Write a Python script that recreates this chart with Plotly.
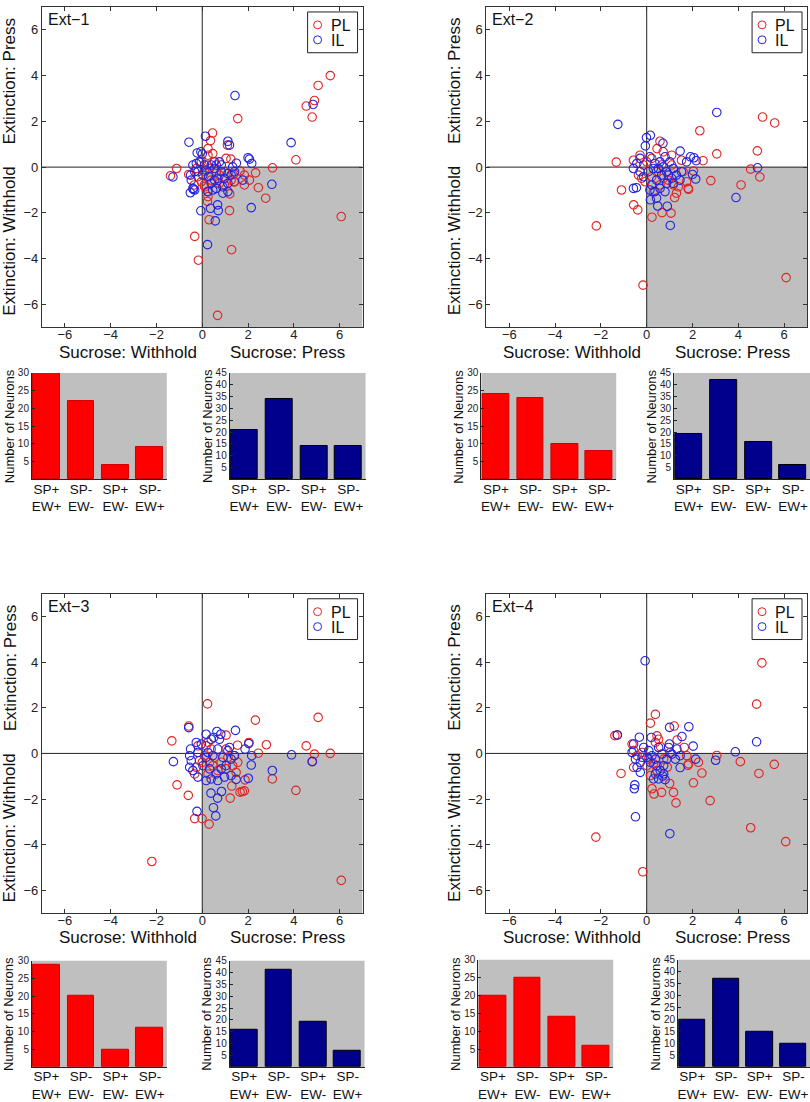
import plotly.graph_objects as go

W, H = 810, 1102

# ---------------- data ----------------
panel_names = ["Ext\u22121", "Ext\u22122", "Ext\u22123", "Ext\u22124"]
categories = ["SP+<br>EW+", "SP-<br>EW-", "SP+<br>EW-", "SP-<br>EW+"]
series_names = ["PL", "IL"]

pl_bars = [[30, 22, 4, 9], [24, 23, 10, 8], [29, 20, 5, 11], [20, 25, 14, 6]]
il_bars = [[21, 34, 14, 14], [19, 42, 16, 6], [16, 41, 19, 7], [20, 37, 15, 10]]

ext1_pl_x = [5.59, 5.06, 4.9, 4.54, 4.8, 1.55, 4.09, 3.07, 0.45, 0.36, 6.07, 2.77, 2.45, 2.33, 1.84, 1.19,
             1.28, 0.3, -0.33, -0.17, 0.67, -1.12, -1.39, -0.59, 0.23, 1.2, 2.06, 1.65, 1.25, 1.1, 1.04, 0.25,
             0.25, 0.46, 1.84, 0.25, -0.04, -0.19, 0.1, 0.32, 0.54, 0.75, 0.97, 1.26, 1.41, -0.04, 0.61, 0.39,
             0.1, 0.75, 0.97, -0.26, 0.22, 0.23, 0.09, 0.52, -0.35, 1.39, 1.39]
ext1_pl_y = [4.0, 3.57, 2.91, 2.67, 2.19, 2.12, 0.32, -0.03, 1.49, 1.16, -2.16, -1.36, -0.9, -0.25, -0.78, -1.9,
             -3.61, -2.3, -3.03, -4.07, -6.48, -0.06, -0.38, -0.32, -1.5, -1.17, -0.57, -0.17, 0.35, 0.96, 0.38, 0.81,
             0.52, 0.59, -0.35, -1.29, -0.64, -0.42, -0.2, -0.06, 0.23, -0.35, -0.78, -0.57, -0.64, 0.23, -0.2, -0.57,
             -0.86, -0.71, -0.2, -0.06, 0.09, -1.07, -0.78, 0.23, -0.78, -0.64, -0.28]
ext1_il_x = [1.43, 4.84, 3.88, -0.58, 0.14, 1.12, 1.19, 2.0, 2.06, 2.16, 1.49, 3.04, 2.14, -0.06, 0.23, 0.36,
             0.67, 0.7, 0.57, -1.28, -0.52, -0.39, -0.06, 0.0, -0.12, -0.26, -0.33, -0.51, -0.48, -0.41, -0.33, -0.19,
             0.03, 0.17, 0.39, 0.61, 0.75, 0.83, 0.68, 0.54, 0.39, 0.25, 0.46, 0.61, 0.9, 1.12, 1.26, 1.41,
             1.12, 0.97, 1.12, 0.9, 0.54, 0.28, 0.1, -0.22, -0.41, 0.83, 1.33, 1.77]
ext1_il_y = [3.13, 2.74, 1.07, 1.09, 1.35, 1.13, 0.96, 0.41, 0.35, 0.16, 0.17, -0.75, -1.77, -1.91, -3.39, -1.8,
             -1.65, -1.9, -2.35, -0.43, -1.12, -0.97, 0.67, 0.57, 0.23, 0.16, -0.2, -0.35, -0.57, -0.93, -1.0, -0.2,
             -0.35, -0.13, 0.09, 0.09, 0.23, -0.2, -0.49, -0.57, -0.71, -1.07, -1.0, -0.93, -0.86, -0.71, -0.35, -0.2,
             -0.28, -0.49, -1.07, -1.14, -0.06, -0.42, 0.09, 0.62, 0.09, 0.09, 0.01, -0.57]

ext2_pl_x = [5.06, 5.59, 2.32, 3.06, 4.83, 2.46, -1.33, 4.54, 4.94, 4.12, 2.8, 1.83, 2.04, 1.22, 0.67, 1.06,
             0.23, -0.57, -0.39, -1.1, -2.2, -0.16, 6.09, 0.58, 0.45, -0.29, -0.58, 0.22, 0.0, -0.14, -0.22, -0.36,
             -0.07, 0.22, 0.43, 0.72, 0.94, 1.16, 1.38, 1.3, 1.74, 1.81, 0.65, 1.09, 1.52, 0.29, 0.58, 1.59,
             1.09, 0.72]
ext2_pl_y = [2.19, 1.93, 1.59, 0.58, 0.71, 0.28, 0.22, -0.09, -0.43, -0.78, -0.59, -0.97, -0.17, -1.33, -1.99, -2.01,
             -2.19, -1.65, -1.87, -1.0, -2.57, -5.16, -4.83, 1.13, 0.81, 0.52, 0.3, 0.38, 0.23, 0.09, -0.49, -0.35,
             -0.64, -0.42, -0.2, -0.49, -0.57, -0.78, -0.86, -1.14, -0.64, -0.93, 0.09, 0.09, 0.3, -1.07, -0.78, -0.2,
             0.52, 0.67]
ext2_il_x = [3.06, -1.26, 0.16, -0.01, -0.06, 0.71, 1.46, 1.91, 2.06, 2.16, 4.84, 3.9, 2.14, 2.0, 1.03, 0.9,
             0.48, 0.16, -0.58, -0.45, -0.58, -0.43, -0.29, 0.14, 0.36, 0.58, 0.8, 1.01, 1.16, 0.87, 0.65, 0.43,
             0.22, 0.14, 0.36, 0.58, 0.87, 1.09, 1.3, 1.52, 1.45, 1.74, -0.29, -0.14, 0.07, 0.29, 0.51, 0.72,
             0.94, 1.16, 0.8, 0.43]
ext2_il_y = [2.39, 1.87, 1.39, 1.29, 0.93, 1.04, 0.7, 0.45, 0.41, 0.28, -0.03, -1.33, -0.52, -0.32, -2.55, -1.71,
             -1.7, -1.43, -0.93, -0.9, -0.06, 0.16, 0.38, 0.45, 0.16, 0.23, 0.45, 0.23, -0.06, -0.2, -0.35, -0.57,
             -0.78, -1.0, -1.07, -0.93, -0.71, -0.49, -0.35, -0.2, -0.57, 0.23, -0.2, -0.42, -0.2, -0.06, -0.06, 0.01,
             -0.35, -0.71, -1.07, -1.36]

ext3_pl_x = [0.23, 2.32, 5.06, -1.33, -0.59, 1.04, 2.04, 2.8, 2.45, 4.54, 4.9, 5.59, 4.81, 3.06, 4.09, 1.65,
             1.75, 1.84, 1.22, 1.87, -1.1, -0.61, -0.33, -0.01, 0.3, -2.2, 6.07, 1.54, 1.29, 1.39, 0.25, 0.39,
             0.1, -0.12, -0.26, -0.33, 0.32, 0.46, 0.25, 1.04, 1.12, 1.33, 1.55, 1.48, 0.54, 0.68, 0.0, -0.19,
             0.17, 1.04, 0.83]
ext3_pl_y = [2.17, 1.46, 1.58, 0.55, 1.2, 0.8, 0.48, 0.38, 0.01, 0.33, -0.03, 0.0, -0.35, -1.12, -1.62, -1.7,
             -1.67, -1.64, -1.96, -1.16, -1.38, -1.84, -2.86, -2.86, -3.1, -4.74, -5.57, 0.36, -1.43, -0.1, 0.48, 0.19,
             -0.1, -0.32, -0.61, -0.9, -0.39, -0.54, -0.9, 0.19, -0.17, -0.54, -0.39, -0.83, -0.17, -0.75, -0.39, 0.33,
             0.33, -0.68, -0.39]
ext3_il_x = [-0.59, 1.45, -1.26, 3.9, 4.8, 3.06, 2.14, 2.16, 2.03, 1.87, -0.23, 0.59, 0.49, 0.67, 0.38, 0.84,
             2.01, 1.48, 0.64, 0.81, -0.51, -0.55, -0.48, -0.55, -0.41, -0.19, -0.26, -0.04, 0.17, 0.39, 0.5, 0.75,
             0.68, 0.46, 0.17, 0.03, 0.32, 0.61, 0.83, 1.04, 1.26, 1.19, 1.41, 0.97, 0.68, 0.39, 0.17, 1.26,
             -0.19, 0.25, 0.9, 1.12]
ext3_il_y = [1.13, 1.01, -0.36, -0.06, -0.36, -0.75, -0.51, -0.1, 0.43, 0.19, -2.54, -2.74, -2.38, -1.96, -1.74, -1.67,
             -1.09, -1.14, 0.96, 0.84, 0.19, -0.1, -0.32, -0.61, -0.75, -1.04, 0.48, 0.41, 0.84, 0.62, 0.7, 0.62,
             0.19, -0.1, -0.17, -0.54, -0.68, -0.9, -0.68, -0.54, -0.25, 0.26, -0.1, -1.04, -1.19, -1.12, -1.19, -0.97,
             0.04, 0.04, -0.17, 0.12]

ext4_pl_x = [5.03, 4.8, 0.38, 0.16, 1.2, -1.39, -1.29, 3.06, 4.09, 5.57, 4.9, 2.41, 2.04, 2.77, 4.54, 6.07,
             1.28, 1.17, 1.0, 0.65, 0.32, 0.23, -1.12, -2.22, -0.17, 2.26, 1.8, 1.64, 1.33, 0.45, 0.52, 0.38,
             -0.64, -0.57, -0.42, -0.57, -0.2, 0.09, 0.3, 0.45, 0.16, 1.83, 1.75, 1.03, 0.74, 0.01, 0.6, 0.9]
ext4_pl_y = [3.97, 2.16, 1.71, 1.33, 1.2, 0.78, 0.8, -0.09, -0.36, -0.48, -0.88, -0.86, -1.29, -2.07, -3.26, -3.87,
             -2.17, -1.71, -1.32, -1.71, -1.78, -1.55, -0.88, -3.67, -5.19, -0.39, -0.52, 0.26, 0.59, 0.77, 0.62, 0.48,
             0.41, 0.12, -0.1, -0.61, 0.04, -0.25, -0.46, -0.75, -0.97, -0.46, -0.1, 0.04, -0.25, -0.54, 0.3, -0.6]
ext4_il_x = [-0.07, 4.8, 3.87, 3.01, 1.84, 1.0, 1.54, 2.03, 2.14, 1.46, -1.28, -0.32, -0.52, -0.54, -0.49, 1.01,
             0.2, -0.57, -0.64, -0.49, -0.42, -0.28, -0.13, 0.09, 0.23, 0.38, 0.16, 0.01, 0.45, 0.59, 0.74, 0.38,
             0.52, 0.74, 0.88, 0.96, 1.1, 1.25, 1.32, 1.46, 0.52, 0.67, 0.3, -0.2, -0.28, 0.99, 0.7, 0.8]
ext4_il_y = [4.06, 0.51, 0.07, -0.3, 1.17, 1.14, 0.74, 0.32, -0.25, -0.62, 0.81, 0.71, -1.38, -1.55, -2.78, -3.52,
             0.7, 0.41, 0.04, -0.25, -0.61, -0.83, 0.26, 0.12, -0.1, -0.25, -0.39, -0.17, -0.54, -0.75, -0.9, -0.9,
             -1.12, -0.54, -0.25, 0.26, -0.03, -0.25, 0.19, -0.1, 0.26, -0.03, -1.12, -0.17, -0.39, 0.41, -1.0, -1.15]

pl_x = [ext1_pl_x, ext2_pl_x, ext3_pl_x, ext4_pl_x]
pl_y = [ext1_pl_y, ext2_pl_y, ext3_pl_y, ext4_pl_y]
il_x = [ext1_il_x, ext2_il_x, ext3_il_x, ext4_il_x]
il_y = [ext1_il_y, ext2_il_y, ext3_il_y, ext4_il_y]

# ---------------- layout geometry (pixels) ----------------
scatter_boxes = [(41, 362, 1, 323), (486, 807, 1, 323), (41, 362, 591, 912), (486, 807, 591, 912)]
bar_boxes = [((31, 166), (229, 365), (369, 476)),
             ((481, 616), (674, 810), (369, 476)),
             ((31, 166), (229, 364), (960, 1067)),
             ((478, 613), (678, 810), (959, 1067))]

FONT = "Liberation Sans, Arial, Helvetica, sans-serif"
RED_M = "#e02424"
BLUE_M = "#2424dc"
RED_BAR = "#ff0000"
BLUE_BAR = "#00008c"
GRAY = "#bfbfbf"


def fx(p):
    return p / W


def fy(p):
    return 1 - p / H


fig = go.Figure()
layout = dict(width=W, height=H, margin=dict(l=0, r=0, t=0, b=0),
              paper_bgcolor="white", plot_bgcolor="white",
              font=dict(family=FONT, color="#111"), showlegend=False)
shapes = []
annotations = []

for p in range(4):
    sx, bx1, bx2 = 3 * p + 1, 3 * p + 2, 3 * p + 3
    L, R, T, B = scatter_boxes[p]
    xs = "x" if sx == 1 else f"x{sx}"
    ys = "y" if sx == 1 else f"y{sx}"
    axis_common = dict(range=[-7, 7], tickvals=[-6, -4, -2, 0, 2, 4, 6], ticks="inside", ticklen=4,
                       tickcolor="#333", showline=True, linecolor="#333", linewidth=1, mirror="ticks",
                       showgrid=False, zeroline=False, tickfont=dict(size=13, color="#222", family=FONT),
                       fixedrange=True)
    layout["xaxis" if sx == 1 else f"xaxis{sx}"] = dict(domain=[fx(L), fx(R)], anchor=ys,
                                                        ticklabelstandoff=-5, **axis_common)
    layout["yaxis" if sx == 1 else f"yaxis{sx}"] = dict(domain=[fy(B), fy(T)], anchor=xs, **axis_common)

    shapes.append(dict(type="rect", xref=xs, yref=ys, x0=0, x1=7, y0=-7, y1=0,
                       fillcolor=GRAY, line=dict(width=0), layer="below"))
    shapes.append(dict(type="line", xref=xs, yref=ys, x0=0, x1=0, y0=-7, y1=7,
                       line=dict(color="#222", width=1), layer="below"))
    shapes.append(dict(type="line", xref=xs, yref=ys, x0=-7, x1=7, y0=0, y1=0,
                       line=dict(color="#222", width=1), layer="below"))

    fig.add_trace(go.Scatter(x=pl_x[p], y=pl_y[p], mode="markers", name=series_names[0], xaxis=xs, yaxis=ys,
                             marker=dict(symbol="circle-open", size=8.5, color=RED_M, line=dict(width=1.1))))
    fig.add_trace(go.Scatter(x=il_x[p], y=il_y[p], mode="markers", name=series_names[1], xaxis=xs, yaxis=ys,
                             marker=dict(symbol="circle-open", size=8.5, color=BLUE_M, line=dict(width=1.1))))

    # legend box (drawn manually, MATLAB style)
    shapes.append(dict(type="rect", xref="paper", yref="paper", x0=fx(R - 55), x1=fx(R - 5),
                       y0=fy(T + 46), y1=fy(T + 5), fillcolor="white", line=dict(color="#222", width=1),
                       layer="above"))
    for k, (col, name) in enumerate([(RED_M, series_names[0]), (BLUE_M, series_names[1])]):
        cy = T + 18 + 15 * k
        shapes.append(dict(type="circle", xref="paper", yref="paper", x0=fx(R - 49), x1=fx(R - 41),
                           y0=fy(cy + 4), y1=fy(cy - 4), line=dict(color=col, width=1), layer="above"))
        annotations.append(dict(text=name, x=fx(R - 33), y=fy(cy), xref="paper", yref="paper",
                                xanchor="left", yanchor="middle", showarrow=False, height=14,
                                valign="middle", borderpad=0,
                                font=dict(size=16, family=FONT, color="#111")))

    # panel label and axis titles
    annotations.append(dict(text=panel_names[p], x=fx(L + 4), y=fy(T + 13), xref="paper", yref="paper",
                            xanchor="left", yanchor="middle", showarrow=False,
                            font=dict(size=16, family=FONT, color="#111")))
    annotations.append(dict(text="Extinction: Press", x=fx(L - 32), y=fy(T + 74), xref="paper", yref="paper",
                            textangle=-90, showarrow=False, xanchor="center", yanchor="middle",
                            font=dict(size=17, family=FONT, color="#111")))
    annotations.append(dict(text="Extinction: Withhold", x=fx(L - 32), y=fy(T + 235), xref="paper",
                            yref="paper", textangle=-90, showarrow=False, xanchor="center", yanchor="middle",
                            font=dict(size=17, family=FONT, color="#111")))
    annotations.append(dict(text="Sucrose: Withhold", x=fx(L + 86), y=fy(B + 25), xref="paper", yref="paper",
                            showarrow=False, xanchor="center", yanchor="middle",
                            font=dict(size=17, family=FONT, color="#111")))
    annotations.append(dict(text="Sucrose: Press", x=fx(L + 246), y=fy(B + 25), xref="paper", yref="paper",
                            showarrow=False, xanchor="center", yanchor="middle",
                            font=dict(size=17, family=FONT, color="#111")))

    # bar charts
    (rl, rr), (bl, br), (bt, bb) = bar_boxes[p]
    for ax_i, (l, r), vals, col, edge, ymax in [(bx1, (rl, rr), pl_bars[p], RED_BAR, "#d00000", 30),
                                                 (bx2, (bl, br), il_bars[p], BLUE_BAR, "#000000", 45)]:
        xa, ya = f"x{ax_i}", f"y{ax_i}"
        layout[f"xaxis{ax_i}"] = dict(domain=[fx(l), fx(r)], anchor=ya, range=[0.58, 4.49],
                                      tickvals=[1, 2, 3, 4], ticktext=categories, ticks="",
                                      showline=True, linecolor="#222", linewidth=1, showgrid=False,
                                      zeroline=False, tickfont=dict(size=13.5, family=FONT, color="#111"),
                                      ticklabelstandoff=-3, fixedrange=True)
        layout[f"yaxis{ax_i}"] = dict(domain=[fy(bb), fy(bt)], anchor=xa, range=[0, ymax],
                                      tickvals=list(range(5, ymax + 1, 5)), ticks="inside", ticklen=3,
                                      tickcolor="#222", showline=True, linecolor="#222", linewidth=1,
                                      showgrid=False, zeroline=False,
                                      tickfont=dict(size=10, family=FONT, color="#222"), fixedrange=True)
        shapes.append(dict(type="rect", xref=f"{xa} domain", yref=f"{ya} domain", x0=0, x1=1, y0=0, y1=1,
                           fillcolor=GRAY, line=dict(width=0), layer="below"))
        fig.add_trace(go.Bar(x=[1, 2, 3, 4], y=vals, width=0.78, xaxis=xa, yaxis=ya, showlegend=False,
                             marker=dict(color=col, line=dict(color=edge, width=1))))
        annotations.append(dict(text="Number of Neurons", x=fx(l - 23), y=fy((bt + bb) / 2),
                                xref="paper", yref="paper", textangle=-90, showarrow=False,
                                xanchor="center", yanchor="middle",
                                font=dict(size=13, family=FONT, color="#111")))

layout["shapes"] = shapes
layout["annotations"] = annotations
layout["bargap"] = 0
fig.update_layout(**layout)
fig.write_html("out.html", config={"displayModeBar": False},
               post_script="document.body.style.margin='0';document.body.style.padding='0';")
